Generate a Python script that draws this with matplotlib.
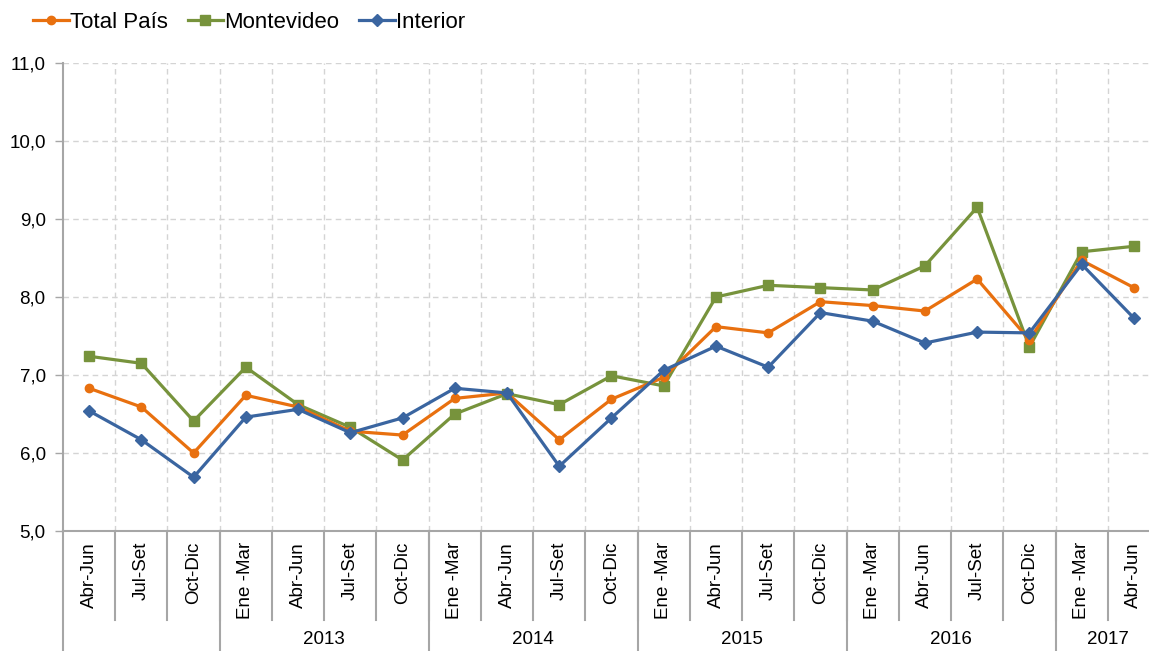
import numpy as np
import matplotlib
matplotlib.use("Agg")
import matplotlib.pyplot as plt
import matplotlib.transforms as mtransforms

plt.rcParams['font.family'] = ['Liberation Sans', 'DejaVu Sans']

# Data
quarters = ['Abr-Jun', 'Jul-Set', 'Oct-Dic',
            'Ene -Mar', 'Abr-Jun', 'Jul-Set', 'Oct-Dic',
            'Ene -Mar', 'Abr-Jun', 'Jul-Set', 'Oct-Dic',
            'Ene -Mar', 'Abr-Jun', 'Jul-Set', 'Oct-Dic',
            'Ene -Mar', 'Abr-Jun', 'Jul-Set', 'Oct-Dic',
            'Ene -Mar', 'Abr-Jun']
years = ['', '2013', '2014', '2015', '2016', '2017']
year_sizes = [3, 4, 4, 4, 4, 2]

total_pais = [6.83, 6.59, 6.00, 6.74, 6.59, 6.28, 6.23, 6.70, 6.77, 6.17, 6.69,
              6.97, 7.62, 7.54, 7.94, 7.89, 7.82, 8.23, 7.45, 8.47, 8.12]
montevideo = [7.24, 7.15, 6.41, 7.10, 6.62, 6.33, 5.91, 6.50, 6.76, 6.62, 6.99,
              6.86, 8.00, 8.15, 8.12, 8.09, 8.40, 9.15, 7.36, 8.58, 8.65]
interior = [6.54, 6.17, 5.69, 6.46, 6.56, 6.26, 6.45, 6.83, 6.77, 5.83, 6.45,
            7.06, 7.37, 7.10, 7.80, 7.69, 7.41, 7.55, 7.54, 8.42, 7.73]

c_total = '#E8700F'
c_mvd = '#77933C'
c_int = '#3A65A0'
grey = '#A6A6A6'

W, H = 1149, 651
fig = plt.figure(figsize=(W / 100, H / 100), dpi=100)
# the plot area runs a little past the right edge of the picture
ax = fig.add_axes([63 / W, (H - 531) / H, (1160 - 63) / W, (531 - 63) / H])

x = np.arange(len(quarters))
ax.plot(x, total_pais, color=c_total, lw=2.3, marker='o', ms=6, label='Total País', zorder=4)
ax.plot(x, montevideo, color=c_mvd, lw=2.3, marker='s', ms=6.5, label='Montevideo', zorder=3)
ax.plot(x, interior, color=c_int, lw=2.3, marker='D', ms=6, label='Interior', zorder=5)

ax.set_xlim(-0.5, len(quarters) - 0.5)
ax.set_ylim(5, 11)
ax.set_yticks(np.arange(5, 12, 1))
ax.set_yticklabels([f'{v:.1f}'.replace('.', ',') for v in np.arange(5, 12, 1)], fontsize=13.5)
ax.tick_params(axis='y', length=6, width=1, color=grey, pad=6.5)

ax.set_xticks(x)
ax.set_xticklabels(quarters, rotation=90, fontsize=13.5, va='top', ha='center')
ax.tick_params(axis='x', length=0, pad=8)
ax.set_xticks(np.arange(0.5, len(quarters) - 0.5, 1), minor=True)
ax.tick_params(axis='x', which='minor', length=0)

ax.grid(axis='y', which='major', color='#D4D4D4', ls=(0, (4, 3)), lw=1)
ax.grid(axis='x', which='minor', color='#D4D4D4', ls=(0, (4, 3)), lw=1)
ax.set_axisbelow(True)

for s in ['top', 'right']:
    ax.spines[s].set_visible(False)
for s in ['left', 'bottom']:
    ax.spines[s].set_color(grey)
    ax.spines[s].set_linewidth(1.5)

# category separators and year groups below the axis
trans = mtransforms.blended_transform_factory(ax.transData, ax.transAxes)
for b in np.arange(0.5, len(quarters) - 0.5, 1):
    ax.plot([b, b], [0, -0.19], transform=trans, color=grey, lw=1.5, clip_on=False)
start = -0.5
for yr, n in zip(years, year_sizes):
    ax.plot([start, start], [0, -0.3], transform=trans, color=grey, lw=1.5, clip_on=False)
    ax.text(start + n / 2, -0.232, yr, transform=trans, ha='center', va='center', fontsize=13.5)
    start += n
ax.plot([start, start], [0, -0.3], transform=trans, color=grey, lw=1.5, clip_on=False)

fig.legend(loc='upper left', bbox_to_anchor=(33 / W, 1 - 12 / H), ncol=3, frameon=False,
           fontsize=16, handlelength=1.6, handletextpad=0.05, columnspacing=0.9,
           borderaxespad=0, borderpad=0)

fig.savefig('out.png', dpi=100)
